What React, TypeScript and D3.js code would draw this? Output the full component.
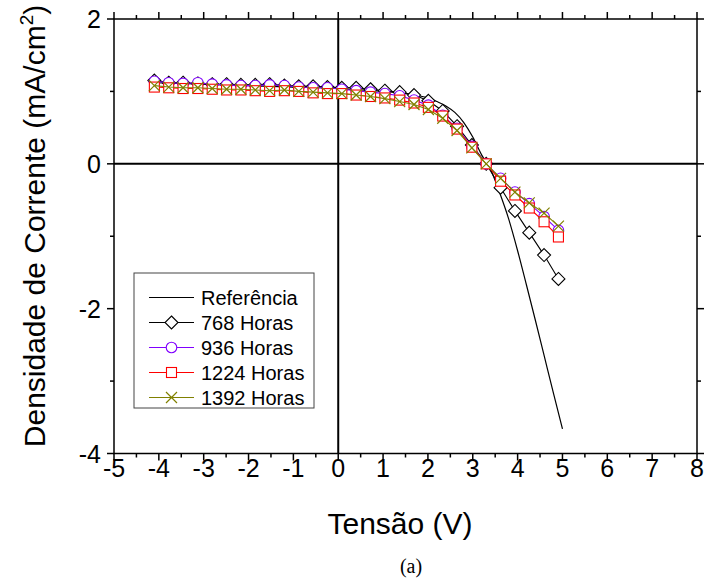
import { useEffect, useRef } from "react";
import * as d3 from "d3";

// tensão (V) dos pontos medidos
const voltages = [
  -4.1, -3.78, -3.46, -3.13, -2.81, -2.49, -2.17, -1.85, -1.53, -1.2, -0.88, -0.56, -0.24, 0.08, 0.4,
  0.72, 1.04, 1.37, 1.69, 2.01, 2.33, 2.65, 2.98, 3.3, 3.62, 3.94, 4.26, 4.59, 4.91,
];

const h768 = [
  1.15, 1.12, 1.12, 1.11, 1.1, 1.1, 1.09, 1.09, 1.1, 1.08, 1.07, 1.07, 1.06, 1.05, 1.05,
  1.03, 1.01, 0.99, 0.95, 0.87, 0.73, 0.52, 0.26, 0.0, -0.33, -0.65, -0.95, -1.26, -1.59,
];
const h936 = [
  1.14, 1.12, 1.11, 1.12, 1.1, 1.09, 1.08, 1.08, 1.09, 1.08, 1.06, 1.05, 1.05, 1.03, 1.01,
  0.99, 0.97, 0.94, 0.88, 0.81, 0.67, 0.49, 0.24, 0.0, -0.2, -0.39, -0.55, -0.73, -0.92,
];
const h1224 = [
  1.06, 1.05, 1.04, 1.04, 1.03, 1.02, 1.02, 1.01, 1.0, 1.01, 1.0, 0.98, 0.97, 0.97, 0.95,
  0.93, 0.91, 0.88, 0.84, 0.78, 0.66, 0.48, 0.23, 0.0, -0.24, -0.43, -0.61, -0.8, -1.01,
];
const h1392 = [
  1.08, 1.06, 1.05, 1.05, 1.04, 1.03, 1.03, 1.02, 1.01, 1.02, 1.0, 0.99, 0.98, 0.97, 0.95,
  0.93, 0.9, 0.86, 0.82, 0.75, 0.63, 0.46, 0.22, 0.0, -0.2, -0.39, -0.54, -0.68, -0.86,
];

// curva de referência (sem marcadores)
const refV = [-4.1, -3, -2, -1, 0, 0.5, 1, 1.5, 1.8, 2, 2.2, 2.4, 2.6, 2.8, 3, 3.2, 3.4, 3.6, 3.8, 4, 4.2, 4.4, 4.6, 4.8, 5];
const refJ = [
  1.12, 1.1, 1.08, 1.06, 1.04, 1.02, 1.0, 0.97, 0.94, 0.91, 0.86, 0.8, 0.71, 0.57, 0.37, 0.12, -0.08, -0.4, -0.76,
  -1.2, -1.68, -2.17, -2.67, -3.17, -3.66,
];

const xTicks = [-5, -4, -3, -2, -1, 0, 1, 2, 3, 4, 5, 6, 7, 8];
const yTicks = [-4, -2, 0, 2];

const series = [
  { name: "768 Horas", values: h768, color: "#000000", marker: "diamond" },
  { name: "936 Horas", values: h936, color: "#8000ff", marker: "circle" },
  { name: "1224 Horas", values: h1224, color: "#ff0000", marker: "square" },
  { name: "1392 Horas", values: h1392, color: "#808000", marker: "cross" },
];

const W = 705;
const H = 586;
const FONT = "Arial, 'Liberation Sans', sans-serif";

function drawMarker(g: any, type: string, color: string) {
  if (type === "diamond") {
    g.append("path").attr("d", "M0,-6.5L6.5,0L0,6.5L-6.5,0Z").attr("fill", "#fff").attr("stroke", color).attr("stroke-width", 1.1);
  } else if (type === "circle") {
    g.append("circle").attr("r", 5.3).attr("fill", "#fff").attr("stroke", color).attr("stroke-width", 1.1);
  } else if (type === "square") {
    g.append("rect").attr("x", -5).attr("y", -5).attr("width", 10).attr("height", 10)
      .attr("fill", "#fff").attr("stroke", color).attr("stroke-width", 1.1);
  } else {
    g.append("path").attr("d", "M-5.5,-5.5L5.5,5.5M-5.5,5.5L5.5,-5.5").attr("fill", "none").attr("stroke", color).attr("stroke-width", 1.2);
  }
}

const App = () => {
  const ref = useRef<SVGSVGElement>(null);

  useEffect(() => {
    const svg = d3.select(ref.current);
    svg.selectAll("*").remove();

    const x = d3.scaleLinear().domain([-5, 8]).range([114, 697]);
    const y = d3.scaleLinear().domain([-4, 2]).range([453.5, 19]);
    const [x0, x1] = x.range();
    const [y0, y1] = y.range();

    svg.append("rect").attr("width", W).attr("height", H).attr("fill", "#fff");

    // linhas de zero
    svg.append("line").attr("x1", x0).attr("x2", x1).attr("y1", y(0)).attr("y2", y(0))
      .attr("stroke", "#000").attr("stroke-width", 2);
    svg.append("line").attr("x1", x(0)).attr("x2", x(0)).attr("y1", y1).attr("y2", y0)
      .attr("stroke", "#000").attr("stroke-width", 2);

    // eixos com ticks para fora
    const major = 7;
    const minor = 4;
    const axes = svg.append("g").attr("stroke", "#000").attr("stroke-width", 1.5);
    axes.append("rect").attr("x", x0).attr("y", y1).attr("width", x1 - x0).attr("height", y0 - y1).attr("fill", "none");
    d3.range(-5, 8.01, 0.5).forEach((v) => {
      const len = Number.isInteger(v) ? major : minor;
      axes.append("line").attr("x1", x(v)).attr("x2", x(v)).attr("y1", y0).attr("y2", y0 + len);
      axes.append("line").attr("x1", x(v)).attr("x2", x(v)).attr("y1", y1).attr("y2", y1 - len);
    });
    d3.range(-4, 2.01, 1).forEach((v) => {
      const len = v % 2 === 0 ? major : minor;
      axes.append("line").attr("x1", x0).attr("x2", x0 - len).attr("y1", y(v)).attr("y2", y(v));
      axes.append("line").attr("x1", x1).attr("x2", x1 + len).attr("y1", y(v)).attr("y2", y(v));
    });

    svg.append("g").selectAll("text").data(xTicks).join("text")
      .attr("x", (d) => x(d)).attr("y", 476.5).attr("text-anchor", "middle")
      .attr("font-family", FONT).attr("font-size", 25).text((d) => String(d));
    svg.append("g").selectAll("text").data(yTicks).join("text")
      .attr("x", 101).attr("y", (d) => y(d) + 9).attr("text-anchor", "end")
      .attr("font-family", FONT).attr("font-size", 25).text((d) => String(d));

    // referência
    const refLine = d3.line<number>().x((_, i) => x(refV[i])).y((d) => y(d)).curve(d3.curveMonotoneX);
    svg.append("path").attr("d", refLine(refJ)).attr("fill", "none").attr("stroke", "#000").attr("stroke-width", 1.2);

    const line = d3.line<number>().x((_, i) => x(voltages[i])).y((d) => y(d));
    series.forEach((s) => {
      const g = svg.append("g");
      g.append("path").attr("d", line(s.values)).attr("fill", "none").attr("stroke", s.color).attr("stroke-width", 1.1);
      s.values.forEach((v, i) => {
        const m = g.append("g").attr("transform", `translate(${x(voltages[i])},${y(v)})`);
        drawMarker(m, s.marker, s.color);
      });
    });

    // legenda
    const lg = svg.append("g").attr("transform", "translate(134,273)");
    lg.append("rect").attr("width", 180).attr("height", 135).attr("fill", "#fff").attr("stroke", "#444").attr("stroke-width", 1);
    const entries = [{ name: "Referência", color: "#000", marker: "" }, ...series];
    entries.forEach((e, i) => {
      const ey = 24.5 + i * 25;
      lg.append("line").attr("x1", 15).attr("x2", 60).attr("y1", ey).attr("y2", ey).attr("stroke", e.color).attr("stroke-width", 1.1);
      if (e.marker) drawMarker(lg.append("g").attr("transform", `translate(37.5,${ey})`), e.marker, e.color);
      lg.append("text").attr("x", 67).attr("y", ey + 7).attr("font-family", FONT).attr("font-size", 20).text(e.name);
    });

    // títulos
    svg.append("text").attr("x", 400).attr("y", 534).attr("text-anchor", "middle")
      .attr("font-family", FONT).attr("font-size", 30).text("Tensão (V)");
    const yt = svg.append("text").attr("transform", "translate(45,226) rotate(-90)").attr("text-anchor", "middle")
      .attr("font-family", FONT).attr("font-size", 30);
    yt.append("tspan").text("Densidade de Corrente (mA/cm");
    yt.append("tspan").attr("font-size", 19).attr("dy", -12).text("2");
    yt.append("tspan").attr("dy", 12).text(")");

    svg.append("text").attr("x", 411).attr("y", 573).attr("text-anchor", "middle")
      .attr("font-family", "'Liberation Serif', 'Times New Roman', serif").attr("font-size", 20).text("(a)");
  }, []);

  return (
    <div style={{ position: "absolute", left: 0, top: 0 }}>
      <svg ref={ref} width={W} height={H} style={{ display: "block" }} />
    </div>
  );
};

export default App;
